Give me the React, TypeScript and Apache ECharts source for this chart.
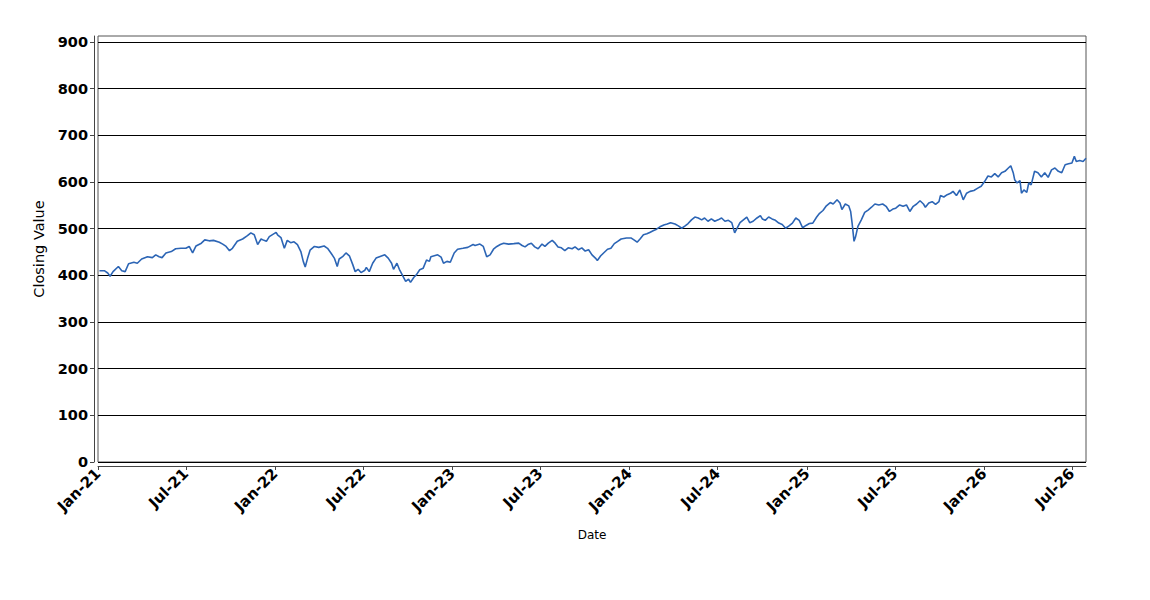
import React, { useEffect, useRef } from 'react';
import * as echarts from 'echarts';

const dates: string[] = [
  '2021-01-04','2021-01-14','2021-01-21','2021-01-26','2021-02-01','2021-02-12','2021-02-19','2021-02-26',
  '2021-03-05','2021-03-16','2021-03-23','2021-04-01','2021-04-13','2021-04-23','2021-04-30','2021-05-07',
  '2021-05-13','2021-05-21','2021-06-01','2021-06-10','2021-06-21','2021-07-01','2021-07-08','2021-07-15',
  '2021-07-22','2021-08-02','2021-08-09','2021-08-18','2021-08-27','2021-09-08','2021-09-15','2021-09-22',
  '2021-09-29','2021-10-05','2021-10-15','2021-10-26','2021-11-05','2021-11-12','2021-11-19','2021-11-26',
  '2021-12-03','2021-12-09','2021-12-14','2021-12-20','2022-01-03','2022-01-06','2022-01-13','2022-01-20',
  '2022-01-26','2022-02-02','2022-02-09','2022-02-16','2022-02-23','2022-02-28','2022-03-04','2022-03-09',
  '2022-03-14','2022-03-23','2022-04-01','2022-04-12','2022-04-19','2022-04-26','2022-05-03','2022-05-09',
  '2022-05-13','2022-05-20','2022-05-27','2022-06-03','2022-06-10','2022-06-15','2022-06-21','2022-06-27',
  '2022-07-05','2022-07-08','2022-07-14','2022-07-21','2022-07-28','2022-08-04','2022-08-15','2022-08-22',
  '2022-08-29','2022-09-02','2022-09-09','2022-09-14','2022-09-20','2022-09-27','2022-10-03','2022-10-07',
  '2022-10-14','2022-10-19','2022-10-26','2022-11-02','2022-11-09','2022-11-15','2022-11-18','2022-11-25',
  '2022-12-02','2022-12-09','2022-12-14','2022-12-21','2022-12-28','2023-01-05','2023-01-12','2023-01-23',
  '2023-02-02','2023-02-13','2023-02-17','2023-02-27','2023-03-06','2023-03-13','2023-03-20','2023-03-27',
  '2023-04-03','2023-04-10','2023-04-17','2023-04-27','2023-05-08','2023-05-18','2023-05-25','2023-05-31',
  '2023-06-06','2023-06-13','2023-06-20','2023-06-27','2023-07-05','2023-07-11','2023-07-18','2023-07-26',
  '2023-08-01','2023-08-07','2023-08-14','2023-08-21','2023-08-28','2023-09-05','2023-09-11','2023-09-18',
  '2023-09-25','2023-10-02','2023-10-09','2023-10-16','2023-10-23','2023-10-27','2023-11-03','2023-11-10',
  '2023-11-17','2023-11-24','2023-12-01','2023-12-08','2023-12-15','2023-12-26','2024-01-05','2024-01-12',
  '2024-01-17','2024-01-23','2024-01-30','2024-02-06','2024-02-12','2024-02-20','2024-02-26','2024-03-04',
  '2024-03-12','2024-03-19','2024-03-26','2024-04-04','2024-04-11','2024-04-18','2024-04-25','2024-05-01',
  '2024-05-08','2024-05-15','2024-05-22','2024-05-29','2024-06-04','2024-06-11','2024-06-18','2024-06-25',
  '2024-07-02','2024-07-09','2024-07-16','2024-07-23','2024-07-30','2024-08-05','2024-08-09','2024-08-16',
  '2024-08-23','2024-08-30','2024-09-05','2024-09-12','2024-09-20','2024-09-27','2024-10-01','2024-10-07',
  '2024-10-14','2024-10-21','2024-10-28','2024-11-04','2024-11-11','2024-11-18','2024-11-25','2024-12-02',
  '2024-12-09','2024-12-16','2024-12-23','2024-12-30','2025-01-06','2025-01-13','2025-01-21','2025-01-27',
  '2025-02-03','2025-02-10','2025-02-18','2025-02-24','2025-03-04','2025-03-10','2025-03-14','2025-03-21',
  '2025-03-28','2025-04-01','2025-04-04','2025-04-08','2025-04-11','2025-04-16','2025-04-23','2025-04-30',
  '2025-05-07','2025-05-14','2025-05-21','2025-05-29','2025-06-06','2025-06-13','2025-06-20','2025-06-27',
  '2025-07-03','2025-07-11','2025-07-18','2025-07-25','2025-08-01','2025-08-08','2025-08-15','2025-08-22',
  '2025-08-29','2025-09-02','2025-09-09','2025-09-16','2025-09-23','2025-09-30','2025-10-03','2025-10-10',
  '2025-10-17','2025-10-24','2025-10-29','2025-11-05','2025-11-12','2025-11-19','2025-11-26','2025-12-03',
  '2025-12-11','2025-12-19','2025-12-26','2026-01-02','2026-01-09','2026-01-16','2026-01-23','2026-01-30',
  '2026-02-06','2026-02-13','2026-02-20','2026-02-25','2026-03-02','2026-03-05','2026-03-10','2026-03-16',
  '2026-03-19','2026-03-24','2026-03-30','2026-04-03','2026-04-08','2026-04-15','2026-04-22','2026-04-29',
  '2026-05-06','2026-05-13','2026-05-20','2026-05-27','2026-06-03','2026-06-10','2026-06-17','2026-06-24',
  '2026-07-01','2026-07-06','2026-07-10','2026-07-17','2026-07-24','2026-07-30'
];

const closingValues: number[] = [
  410,410,405,398,408,419,410,408,
  425,428,426,435,440,438,444,440,
  438,448,451,457,458,458,462,448,
  463,469,476,474,475,471,467,462,
  453,458,473,478,485,491,487,466,
  478,475,473,483,492,487,481,458,
  475,470,472,466,451,430,418,437,
  454,462,460,463,458,448,437,419,
  435,440,448,442,423,408,413,406,
  411,417,408,426,437,440,444,437,
  426,413,426,413,401,387,392,385,
  396,401,412,415,433,430,440,442,
  444,439,426,430,428,448,456,458,
  460,466,464,467,462,440,444,456,
  462,466,469,467,468,469,464,461,
  466,469,461,457,467,462,469,475,
  469,461,459,453,459,457,461,455,
  459,452,455,444,437,432,442,449,
  456,458,468,473,478,480,480,475,
  471,478,487,489,492,496,499,504,
  508,510,513,510,506,501,506,511,
  519,525,523,519,523,516,521,516,
  519,523,516,518,513,491,499,513,
  519,525,513,516,523,528,521,518,
  525,521,518,512,509,501,506,512,
  523,518,502,507,511,512,525,533,
  539,549,556,553,562,555,541,553,
  549,537,512,473,482,505,519,535,
  540,546,553,551,553,548,537,542,
  544,551,548,551,537,548,553,560,
  553,546,555,558,552,558,571,568,
  573,576,580,571,583,562,576,580,
  582,587,591,601,613,611,618,611,
  620,623,630,635,620,605,598,603,
  576,583,578,598,594,623,620,611,
  620,610,626,630,623,620,637,639,
  641,655,644,646,644,651
];

const xTickDates: string[] = [
  '2021-01-01','2021-07-01','2022-01-01','2022-07-01','2023-01-01','2023-07-01',
  '2024-01-01','2024-07-01','2025-01-01','2025-07-01','2026-01-01','2026-07-01'
];
const yTickValues: number[] = [0, 100, 200, 300, 400, 500, 600, 700, 800, 900];
const monthNames: string[] = ['Jan','Feb','Mar','Apr','May','Jun','Jul','Aug','Sep','Oct','Nov','Dec'];

const toTime = (s: string): number => {
  const [y, m, d] = s.split('-').map(Number);
  return new Date(y, m - 1, d).getTime();
};

const App: React.FC = () => {
  const ref = useRef<HTMLDivElement>(null);
  useEffect(() => {
    if (!ref.current) return;
    const chart = echarts.init(ref.current, undefined, { renderer: 'svg' });
    const xTicks = xTickDates.map(toTime);
    const font = 'DejaVu Sans';
    chart.setOption({
      animation: false,
      backgroundColor: '#ffffff',
      grid: {
        left: 98, top: 36, width: 988, height: 426,
        show: true, borderColor: '#555555', borderWidth: 1, backgroundColor: 'transparent',
        containLabel: false
      },
      xAxis: {
        type: 'value',
        min: toTime('2021-01-01'),
        max: toTime(dates[dates.length - 1]),
        offset: 4,
        name: 'Date',
        nameLocation: 'middle',
        nameGap: 63,
        nameTextStyle: { fontFamily: font, fontSize: 12, color: '#000' },
        axisLine: { show: true, onZero: false, lineStyle: { color: '#444444', width: 1 } },
        axisTick: { show: true, length: 4, inside: false, customValues: xTicks, lineStyle: { color: '#444444' } },
        axisLabel: {
          customValues: xTicks,
          rotate: 45,
          margin: 5,
          fontFamily: font,
          fontSize: 15,
          fontWeight: 'bold',
          color: '#000',
          formatter: (v: number) => {
            const d = new Date(v);
            return monthNames[d.getMonth()] + '-' + String(d.getFullYear()).slice(2);
          }
        },
        splitLine: { show: false },
        minorTick: { show: false }
      },
      yAxis: {
        type: 'value',
        min: 0,
        max: 913,
        interval: 100,
        offset: 4,
        name: 'Closing Value',
        nameLocation: 'middle',
        nameGap: 42,
        nameRotate: 90,
        nameTextStyle: { fontFamily: font, fontSize: 14.5, color: '#000' },
        axisLine: { show: true, lineStyle: { color: '#444444', width: 1 } },
        axisTick: { show: true, length: 4, inside: false, customValues: yTickValues, lineStyle: { color: '#444444' } },
        axisLabel: {
          customValues: yTickValues,
          margin: 6,
          fontFamily: font,
          fontSize: 14.5,
          fontWeight: 'bold',
          color: '#000'
        },
        splitLine: { show: true, lineStyle: { color: '#000000', width: 1 } }
      },
      series: [
        {
          type: 'line',
          data: dates.map((d, i) => [toTime(d), closingValues[i]]),
          showSymbol: false,
          symbol: 'none',
          lineStyle: { color: '#2c65b5', width: 1.6 },
          itemStyle: { color: '#2c65b5' }
        }
      ]
    });
    return () => chart.dispose();
  }, []);
  return (
    <div
      ref={ref}
      style={{ position: 'absolute', left: 0, top: 0, width: 1150, height: 600, background: '#fff' }}
    />
  );
};

export default App;
